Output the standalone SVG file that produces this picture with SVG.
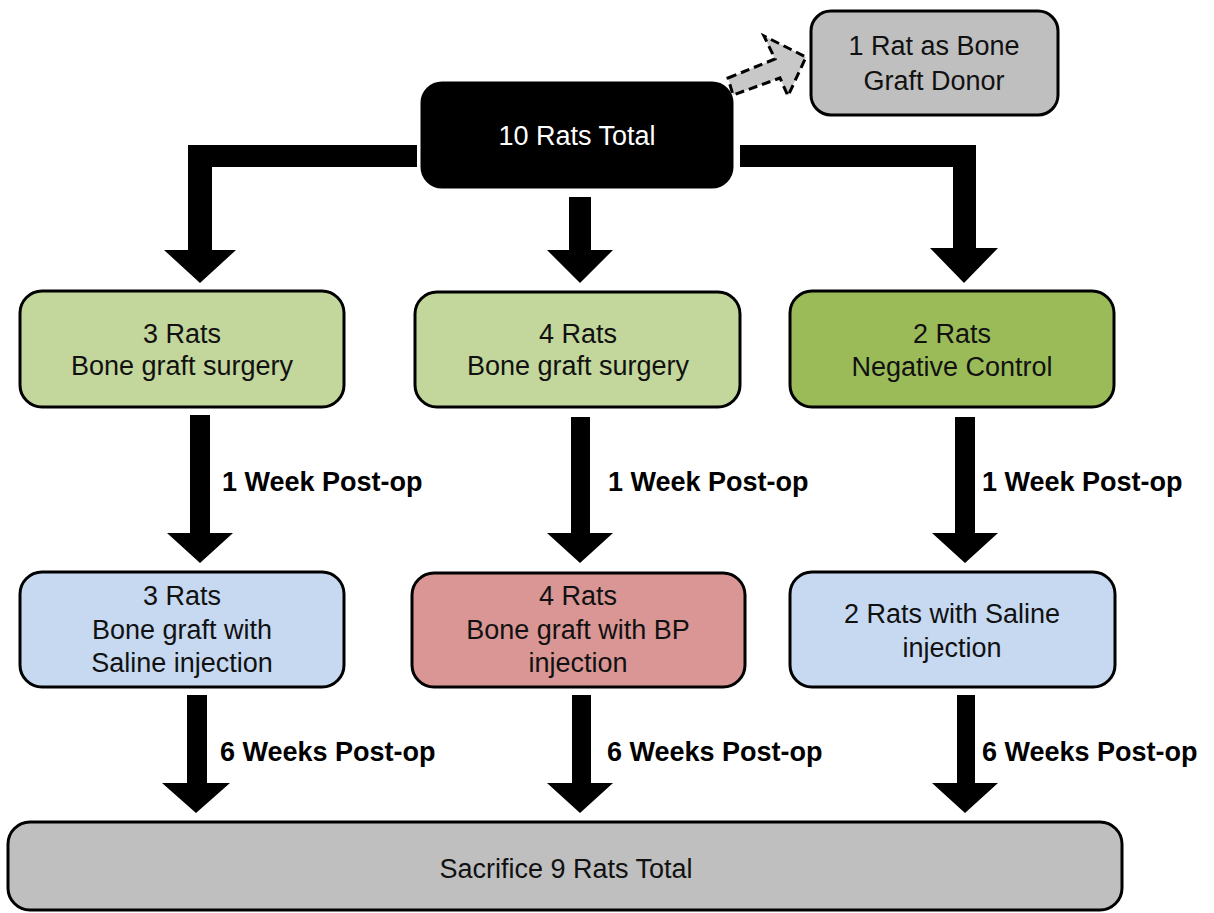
<svg xmlns="http://www.w3.org/2000/svg" width="1214" height="913" viewBox="0 0 1214 913">
<style>
.box{stroke:#000;stroke-width:3}
.t{font-family:"Liberation Sans",Arial,sans-serif;font-size:27px;fill:#111;text-anchor:middle}
.w{fill:#fff}
.lbl{font-family:"Liberation Sans",Arial,sans-serif;font-size:27px;font-weight:bold;fill:#000}
.arr{fill:#000}
</style>
<rect width="1214" height="913" fill="#fff"/>
<g id="connectors">
<path class="arr" d="M417,145 H188 V250 H164 L200,283 L236,250 H212 V167 H417 Z"/>
<path class="arr" d="M740,145 H976 V248 H998 L964,283 L930,248 H953 V167 H740 Z"/>
<path class="arr" d="M569,197 H591 V250 H613 L580,283 L547,250 H569 Z"/>
<path d="M728,78 L775,59 L764,36 L806,57 L788,96 L780,78 L733,95 Z" fill="#c8c8c8" stroke="#000" stroke-width="3" stroke-dasharray="9,5"/>
<path class="arr" d="M190,415 H210 V533 H233 L200,563 L167,533 H190 Z"/>
<path class="arr" d="M571,417 H590 V533 H613 L580,563 L547,533 H571 Z"/>
<path class="arr" d="M955,417 H975 V533 H998 L965,563 L932,533 H955 Z"/>
<path class="arr" d="M187,695 H207 V783 H230 L196,813 L162,783 H187 Z"/>
<path class="arr" d="M572,695 H591 V783 H613 L580,813 L547,783 H572 Z"/>
<path class="arr" d="M957,695 H975 V783 H998 L965,813 L932,783 H957 Z"/>
<text class="lbl" x="222" y="491">1 Week Post-op</text>
<text class="lbl" x="608" y="491">1 Week Post-op</text>
<text class="lbl" x="982" y="491">1 Week Post-op</text>
<text class="lbl" x="220" y="761">6 Weeks Post-op</text>
<text class="lbl" x="607" y="761">6 Weeks Post-op</text>
<text class="lbl" x="982" y="761">6 Weeks Post-op</text>
</g>
<g id="n_total">
<rect class="box" x="422" y="83" width="310" height="104" rx="20" fill="#000"/>
<text class="t w" x="577" y="145">10 Rats Total</text>
</g>
<g id="n_donor">
<rect class="box" x="811" y="11" width="247" height="104" rx="20" fill="#bfbfbf"/>
<text class="t" x="934" y="55">1 Rat as Bone</text>
<text class="t" x="934" y="90">Graft Donor</text>
</g>
<g id="n_g1">
<rect class="box" x="20" y="291" width="324" height="116" rx="22" fill="#c3d69b"/>
<text class="t" x="182" y="343">3 Rats</text>
<text class="t" x="182" y="375">Bone graft surgery</text>
</g>
<g id="n_g2">
<rect class="box" x="415" y="292" width="325" height="115" rx="22" fill="#c3d69b"/>
<text class="t" x="578" y="343">4 Rats</text>
<text class="t" x="578" y="375">Bone graft surgery</text>
</g>
<g id="n_g3">
<rect class="box" x="790" y="291" width="324" height="116" rx="22" fill="#9bbb59"/>
<text class="t" x="952" y="343">2 Rats</text>
<text class="t" x="952" y="376">Negative Control</text>
</g>
<g id="n_s1">
<rect class="box" x="20" y="572" width="324" height="115" rx="22" fill="#c6d9f1"/>
<text class="t" x="182" y="605">3 Rats</text>
<text class="t" x="182" y="639">Bone graft with</text>
<text class="t" x="182" y="672">Saline injection</text>
</g>
<g id="n_s2">
<rect class="box" x="412" y="573" width="333" height="114" rx="22" fill="#d99694"/>
<text class="t" x="578" y="605">4 Rats</text>
<text class="t" x="578" y="639">Bone graft with BP</text>
<text class="t" x="578" y="672">injection</text>
</g>
<g id="n_s3">
<rect class="box" x="790" y="572" width="325" height="115" rx="22" fill="#c6d9f1"/>
<text class="t" x="952" y="623">2 Rats with Saline</text>
<text class="t" x="952" y="657">injection</text>
</g>
<g id="n_sac">
<rect class="box" x="8" y="822" width="1114" height="88" rx="22" fill="#bfbfbf"/>
<text class="t" x="566" y="878">Sacrifice 9 Rats Total</text>
</g>
</svg>
